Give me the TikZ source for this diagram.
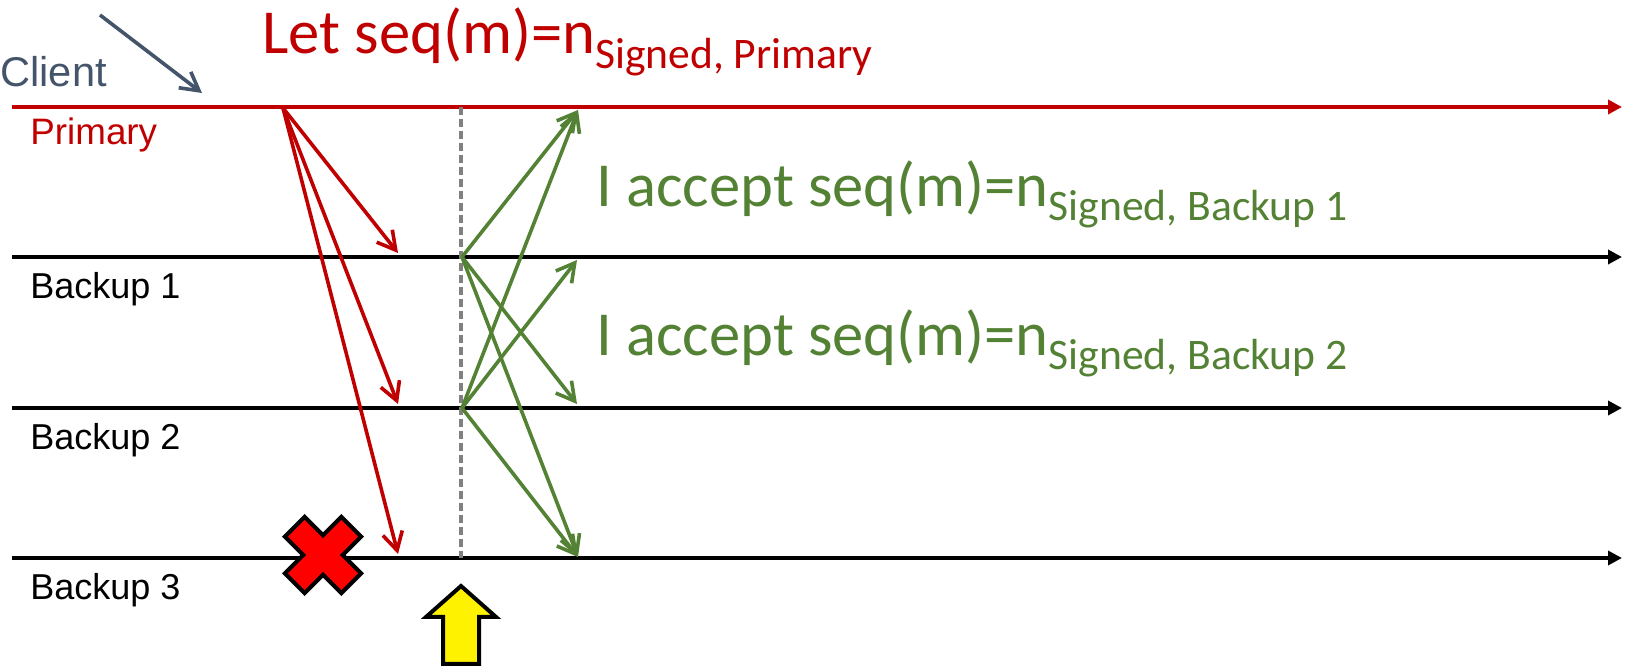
\documentclass[tikz,border=0pt]{standalone}
\usepackage{fontspec}
\setmainfont{Liberation Sans}
\newfontfamily\calib{Carlito}
\usetikzlibrary{arrows.meta}
\definecolor{pred}{HTML}{C00000}
\definecolor{pgreen}{HTML}{548235}
\definecolor{pslate}{HTML}{44546A}
\definecolor{pgray}{HTML}{808080}
\begin{document}
\begin{tikzpicture}[x=0.5pt,y=-0.5pt,
  timeline/.style={line width=1.9pt,-{Triangle[length=7pt,width=7pt]}},
  msg/.style={line width=1.8pt,-{Straight Barb[length=9pt,width=10pt]}},
  lbl/.style={anchor=base west,inner sep=0pt,font=\fontsize{18pt}{19pt}\selectfont},
  big/.style={anchor=base west,inner sep=0pt,font=\calib\fontsize{31.3pt}{32pt}\selectfont}]
\useasboundingbox (0,0) rectangle (1629,667);
% timelines
\coordinate (pS) at (12,107);  \coordinate (pE) at (1622,107);
\coordinate (b1S) at (12,257); \coordinate (b1E) at (1622,257);
\coordinate (b2S) at (12,408); \coordinate (b2E) at (1622,408);
\coordinate (b3S) at (12,558); \coordinate (b3E) at (1622,558);
\draw[timeline,pred] (pS) -- (pE);
\draw[timeline,black] (b1S) -- (b1E);
\draw[timeline,black] (b2S) -- (b2E);
\draw[timeline,black] (b3S) -- (b3E);
% labels
\node[lbl,text=pslate,font=\fontsize{20.8pt}{21pt}\selectfont] (client) at (0,87) {Client};
\node[lbl,text=pred,font=\fontsize{18.4pt}{19pt}\selectfont] (lp) at (30,145) {Primary};
\node[lbl] (l1) at (30,299) {Backup 1};
\node[lbl] (l2) at (30,450) {Backup 2};
\node[lbl] (l3) at (30,600) {Backup 3};
% client arrow
\coordinate (c0) at (100,15); \coordinate (c1) at (202,93);
\draw[msg,pslate,line width=1.8pt] (c0) -- (c1);
% dashed line
\coordinate (d0) at (461,107); \coordinate (d1) at (461,558);
\draw[pgray,line width=1.8pt,dash pattern=on 4pt off 2pt] (d0) -- (d1);
% red pre-prepare arrows
\coordinate (r0) at (283,108);
\coordinate (r1) at (398,253);
\coordinate (r2) at (398,404);
\coordinate (r3) at (398,554);
\draw[msg,pred] (r0) -- (r1);
\draw[msg,pred] (r0) -- (r2);
\draw[msg,pred] (r0) -- (r3);
% green prepare arrows
\coordinate (g1) at (462,257);
\coordinate (g2) at (462,408);
\coordinate (tp) at (578,110);
\coordinate (t1) at (577,260);
\coordinate (t2) at (577,404);
\coordinate (t3) at (578,557);
\draw[msg,pgreen] (g1) -- (tp);
\draw[msg,pgreen] (g1) -- (t2);
\draw[msg,pgreen] (g1) -- (t3);
\draw[msg,pgreen] (g2) -- (tp);
\draw[msg,pgreen] (g2) -- (t1);
\draw[msg,pgreen] (g2) -- (t3);
% texts
\node[big,text=pred] (title) at (262,54) {Let seq(m)=n\raisebox{-7.5pt}{\fontsize{21.8pt}{22pt}\selectfont Signed, Primary}};
\node[big,text=pgreen] (acc1) at (596,207) {I accept seq(m)=n\raisebox{-7pt}{\fontsize{21.8pt}{22pt}\selectfont Signed, Backup 1}};
\node[big,text=pgreen] (acc2) at (596,356) {I accept seq(m)=n\raisebox{-7pt}{\fontsize{21.8pt}{22pt}\selectfont Signed, Backup 2}};
% red cross
\begin{scope}[shift={(323,555)},rotate=45]
\draw[fill=red,draw=black,line width=2pt,line join=miter]
 (40,-14) -- (40,14) -- (14,14) -- (14,40) -- (-14,40) -- (-14,14) -- (-40,14)
 -- (-40,-14) -- (-14,-14) -- (-14,-40) -- (14,-40) -- (14,-14) -- cycle;
\end{scope}
% yellow arrow
\draw[fill=yellow,draw=black,line width=2pt,line join=miter]
 (461,586) -- (496,617) -- (479,617) -- (479,664) -- (443,664) -- (443,617) -- (426,617) -- cycle;
\end{tikzpicture}
\end{document}
